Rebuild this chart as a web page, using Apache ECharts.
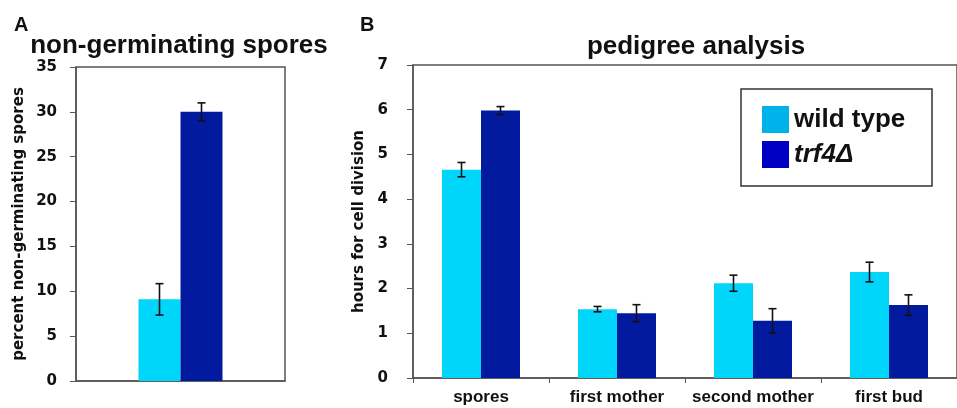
<!DOCTYPE html>
<html>
<head>
<meta charset="utf-8">
<script src="https://cdn.jsdelivr.net/npm/echarts@6/dist/echarts.min.js"></script>
<style>
  html, body { margin: 0; padding: 0; background: #fff; }
  #chart { width: 957px; height: 408px; }
</style>
</head>
<body>
<div id="chart"></div>
<script>
// panel A: non-germinating spores (percent)
const groupA = ['']
const wtPct = [9.1]
const wtPctErr = [1.75]
const trfPct = [30.0]
const trfPctErr = [1.0]

// panel B: pedigree analysis (hours for cell division)
const groupB = ['spores', 'first mother', 'second mother', 'first bud']
const wtHours = [4.66, 1.54, 2.12, 2.37]
const wtHoursErr = [0.16, 0.06, 0.18, 0.22]
const trfHours = [5.98, 1.45, 1.28, 1.63]
const trfHoursErr = [0.09, 0.19, 0.27, 0.23]

const seriesNames = ['wild type', 'trf4Δ']
const lightColor = '#00d6fa'
const darkColor = '#021a9e'
const axisColor = '#555'
const textColor = '#111'

const chart = echarts.init(document.getElementById('chart'))

function errorData(vals, errs, which) {
  return vals.map((v, i) => [i, v - errs[i], v + errs[i], which])
}

function errorSeries(name, xIdx, yIdx, barWidth, data) {
  return {
    name: name,
    type: 'custom',
    xAxisIndex: xIdx,
    yAxisIndex: yIdx,
    silent: true,
    z: 5,
    data: data,
    renderItem(params, api) {
      const off = api.value(3) === 0 ? -barWidth / 2 : barWidth / 2
      const lo = api.coord([api.value(0), api.value(1)])
      const hi = api.coord([api.value(0), api.value(2)])
      const x = lo[0] + off
      const cap = 4
      const style = { stroke: '#111', lineWidth: 1.6 }
      return {
        type: 'group',
        children: [
          { type: 'line', shape: { x1: x, y1: lo[1], x2: x, y2: hi[1] }, style },
          { type: 'line', shape: { x1: x - cap, y1: lo[1], x2: x + cap, y2: lo[1] }, style },
          { type: 'line', shape: { x1: x - cap, y1: hi[1], x2: x + cap, y2: hi[1] }, style }
        ]
      }
    }
  }
}

const yLabel = { color: textColor, fontFamily: 'DejaVu Sans', fontWeight: 'bold', fontSize: 15 }
const yName = { color: textColor, fontFamily: 'DejaVu Sans', fontWeight: 'bold', fontSize: 15 }

chart.setOption({
  animation: false,
  textStyle: { fontFamily: 'Liberation Sans' },
  title: [
    { text: 'A', left: 9, top: 10, textStyle: { fontSize: 20, fontWeight: 'bold', color: textColor } },
    { text: 'non-germinating spores', left: 174, top: 28, textAlign: 'center', textStyle: { fontSize: 26, fontWeight: 'bold', color: textColor } },
    { text: 'B', left: 355, top: 10, textStyle: { fontSize: 20, fontWeight: 'bold', color: textColor } },
    { text: 'pedigree analysis', left: 691, top: 29, textAlign: 'center', textStyle: { fontSize: 26, fontWeight: 'bold', color: textColor } }
  ],
  legend: {
    orient: 'vertical',
    left: 762,
    top: 106,
    padding: 0,
    itemGap: 8,
    itemWidth: 27,
    itemHeight: 27,
    itemTextGap: 8,
    icon: 'rect',
    data: [
      { name: seriesNames[0], itemStyle: { color: '#00b2ea' } },
      { name: seriesNames[1], itemStyle: { color: '#0000c4' } }
    ],
    formatter: (name) => (name === seriesNames[1] ? '{i|' + name + '}' : name),
    textStyle: {
      fontSize: 26, fontWeight: 'bold', color: textColor, lineHeight: 27,
      rich: { i: { fontSize: 26, fontWeight: 'bold', fontStyle: 'italic', color: textColor } }
    }
  },
  graphic: [
    { type: 'rect', shape: { x: 741, y: 89, width: 191, height: 97 }, style: { fill: 'none', stroke: '#333', lineWidth: 1.5 }, z: 10 }
  ],
  grid: [
    { left: 76, top: 67, width: 209, height: 314, show: true, borderColor: axisColor, borderWidth: 1.5 },
    { left: 413, top: 65, right: -6, height: 313, show: true, borderColor: axisColor, borderWidth: 1.5 }
  ],
  xAxis: [
    {
      gridIndex: 0, type: 'category', data: groupA,
      axisLine: { lineStyle: { color: axisColor, width: 1.5 } },
      axisTick: { show: false }, axisLabel: { show: false }
    },
    {
      gridIndex: 1, type: 'category', data: groupB,
      axisLine: { lineStyle: { color: axisColor, width: 1.5 } },
      axisTick: { show: true, length: 5, lineStyle: { color: axisColor } },
      axisLabel: { interval: 0, margin: 11, fontSize: 17, fontWeight: 'bold', color: textColor }
    }
  ],
  yAxis: [
    {
      gridIndex: 0, type: 'value', min: 0, max: 35, interval: 5,
      name: 'percent non-germinating spores', nameLocation: 'middle', nameGap: 49, nameTextStyle: yName,
      axisLine: { show: true, lineStyle: { color: axisColor, width: 1.5 } },
      axisTick: { show: true, length: 6, lineStyle: { color: axisColor } },
      axisLabel: Object.assign({ margin: 19 }, yLabel),
      splitLine: { show: false }
    },
    {
      gridIndex: 1, type: 'value', min: 0, max: 7, interval: 1,
      name: 'hours for cell division', nameLocation: 'middle', nameGap: 41, nameTextStyle: yName,
      axisLine: { show: true, lineStyle: { color: axisColor, width: 1.5 } },
      axisTick: { show: true, length: 6, lineStyle: { color: axisColor } },
      axisLabel: Object.assign({ margin: 25 }, yLabel),
      splitLine: { show: false }
    }
  ],
  series: [
    { name: seriesNames[0], type: 'bar', xAxisIndex: 0, yAxisIndex: 0, data: wtPct, barWidth: 42, barGap: '0%', itemStyle: { color: lightColor } },
    { name: seriesNames[1], type: 'bar', xAxisIndex: 0, yAxisIndex: 0, data: trfPct, barWidth: 42, barGap: '0%', itemStyle: { color: darkColor } },
    { name: seriesNames[0], type: 'bar', xAxisIndex: 1, yAxisIndex: 1, data: wtHours, barWidth: 39, barGap: '0%', itemStyle: { color: lightColor } },
    { name: seriesNames[1], type: 'bar', xAxisIndex: 1, yAxisIndex: 1, data: trfHours, barWidth: 39, barGap: '0%', itemStyle: { color: darkColor } },
    errorSeries('errA', 0, 0, 42, errorData(wtPct, wtPctErr, 0).concat(errorData(trfPct, trfPctErr, 1))),
    errorSeries('errB', 1, 1, 39, errorData(wtHours, wtHoursErr, 0).concat(errorData(trfHours, trfHoursErr, 1)))
  ]
})
</script>
</body>
</html>
